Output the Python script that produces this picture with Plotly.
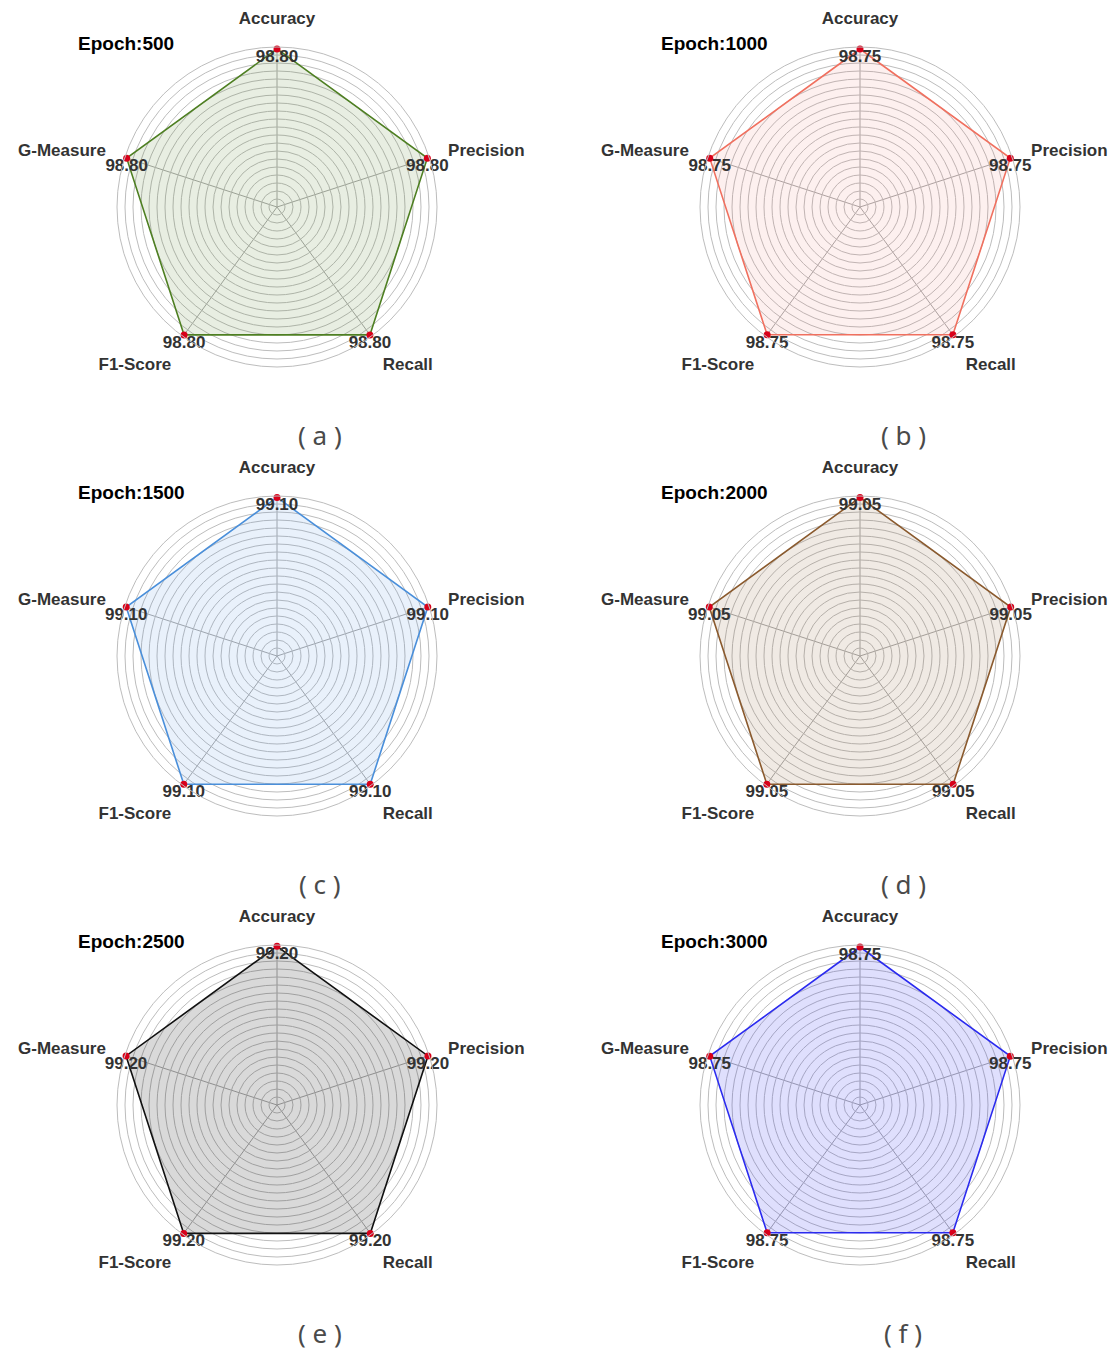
import plotly.graph_objects as go

# ---------------- data ----------------
categories = ["Accuracy", "Precision", "Recall", "F1-Score", "G-Measure"]
epochs = [500, 1000, 1500, 2000, 2500, 3000]
panel_letters = ["a", "b", "c", "d", "e", "f"]

values_500 = [98.80, 98.80, 98.80, 98.80, 98.80]
values_1000 = [98.75, 98.75, 98.75, 98.75, 98.75]
values_1500 = [99.10, 99.10, 99.10, 99.10, 99.10]
values_2000 = [99.05, 99.05, 99.05, 99.05, 99.05]
values_2500 = [99.20, 99.20, 99.20, 99.20, 99.20]
values_3000 = [98.75, 98.75, 98.75, 98.75, 98.75]
all_values = [values_500, values_1000, values_1500, values_2000, values_2500, values_3000]

line_colors = ["#4e7f22", "#f0705f", "#4a8fda", "#8a5a2e", "#111111", "#2b2bef"]
fill_colors = ["rgba(78,127,34,0.13)", "rgba(240,112,95,0.10)", "rgba(74,143,218,0.12)",
               "rgba(138,90,46,0.13)", "rgba(0,0,0,0.15)", "rgba(43,43,239,0.15)"]

ring_values = [5 * k for k in range(1, 21)]

# ---------------- layout constants ----------------
OFF = 8                      # browser body margin
W, H = 1117 - OFF, 1351 - OFF
col_cx = [277 - OFF, 860 - OFF]
row_cy = [207 - OFF, 656 - OFF, 1105 - OFF]
R = 160
FONT = "Liberation Sans"

fig = go.Figure()
annotations = []

for i, vals in enumerate(all_values):
    col, row = i % 2, i // 2
    cx, cy = col_cx[col], row_cy[row]
    pid = "polar" if i == 0 else f"polar{i+1}"
    r_closed = vals + vals[:1]
    th_closed = categories + categories[:1]

    # polygon with fill
    fig.add_trace(go.Scatterpolar(
        r=r_closed, theta=th_closed, mode="lines", fill="toself",
        fillcolor=fill_colors[i], line=dict(color=line_colors[i], width=1.6),
        subplot=pid, showlegend=False, hoverinfo="skip"))
    # value labels
    fig.add_trace(go.Scatterpolar(
        r=vals, theta=categories, mode="text",
        text=[f"{v:.2f}" for v in vals], textposition="bottom center",
        textfont=dict(family=FONT, size=17, color="#333333", weight="bold"),
        subplot=pid, showlegend=False, hoverinfo="skip"))
    # red markers
    fig.add_trace(go.Scatterpolar(
        r=vals, theta=categories, mode="markers",
        marker=dict(color="#d8001a", size=7),
        subplot=pid, showlegend=False))

    fig.layout[pid] = dict(
        domain=dict(x=[(cx - R) / W, (cx + R) / W],
                    y=[1 - (cy + R) / H, 1 - (cy - R) / H]),
        bgcolor="white",
        radialaxis=dict(range=[0, 100], tickvals=ring_values, showticklabels=False,
                        ticks="", showline=False, gridcolor="#bdbdbd", gridwidth=1),
        angularaxis=dict(categoryorder="array", categoryarray=categories,
                         rotation=90, direction="clockwise",
                         showline=True, linecolor="#bdbdbd", linewidth=1,
                         gridcolor="#a8a8a8", gridwidth=1,
                         ticks="outside", ticklen=16, tickcolor="rgba(0,0,0,0)",
                         tickfont=dict(family=FONT, size=17, color="#333333", weight="bold")),
    )

    annotations.append(dict(
        text=f"Epoch:{epochs[i]}", x=(cx - 201) / W, y=1 - (cy - 164) / H,
        xref="paper", yref="paper", xanchor="left", yanchor="middle", showarrow=False,
        font=dict(family=FONT, size=19, color="black", weight="bold")))
    annotations.append(dict(
        text=f"( {panel_letters[i]} )", x=(cx + 43) / W, y=1 - (cy + 228) / H,
        xref="paper", yref="paper", xanchor="center", yanchor="middle", showarrow=False,
        font=dict(family="Noto Sans", size=26, color="#4a4a4a")))

fig.update_layout(
    width=W, height=H, margin=dict(l=0, r=0, t=0, b=0),
    paper_bgcolor="white", plot_bgcolor="white", showlegend=False,
    annotations=annotations)

fig.write_html("out.html")
